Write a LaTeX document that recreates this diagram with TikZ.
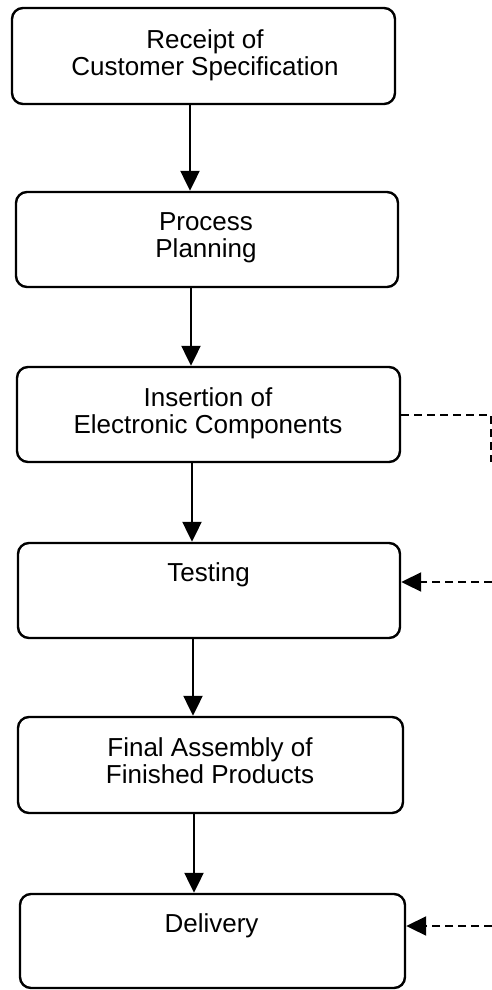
\documentclass[tikz,border=0pt]{standalone}
\usepackage{fontspec}
\setmainfont{Liberation Sans}
\usetikzlibrary{arrows.meta,calc}
\tikzset{
  procbox/.style={draw=black, line width=2.4pt, rounded corners=11pt, inner sep=0pt, fill=none},
  lbl/.style={font=\fontsize{26}{27}\selectfont, align=center, inner sep=0pt, text=black, anchor=base},
  flow/.style={line width=2.2pt, -{Triangle[length=20pt,width=19pt]}},
  dashflow/.style={line width=2pt, dash pattern=on 8pt off 5pt},
}
\begin{document}
\begin{tikzpicture}[x=1pt,y=-1pt]
\useasboundingbox (0,0) rectangle (492,990);
% boxes
\node[procbox, minimum width=383pt, minimum height=96pt] (b1) at (203.5,56) {};
\node[procbox, minimum width=382pt, minimum height=95pt] (b2) at (207,239.5) {};
\node[procbox, minimum width=383pt, minimum height=95pt] (b3) at (208.5,414.5) {};
\node[procbox, minimum width=382pt, minimum height=95pt] (b4) at (209,590.5) {};
\node[procbox, minimum width=385pt, minimum height=96pt] (b5) at (210.5,765) {};
\node[procbox, minimum width=385pt, minimum height=94pt] (b6) at (212.5,941) {};
% labels (anchored at baseline of last line)
\node[lbl] (t1) at (205,75) {Receipt of\\Customer Specification};
\node[lbl] (t2) at (206,257) {Process\\Planning};
\node[lbl] (t3) at (208,433) {Insertion of\\Electronic Components};
\node[lbl] (t4) at (208.5,581) {Testing};
\node[lbl] (t5) at (210,783) {Final Assembly of\\Finished Products};
\node[lbl] (t6) at (211.5,932) {Delivery};
% arrow x positions
\coordinate (a1) at (190,0);
\coordinate (a2) at (191,0);
\coordinate (a3) at (192,0);
\coordinate (a4) at (193,0);
\coordinate (a5) at (194,0);
\draw[flow] (b1.south -| a1) -- (b2.north -| a1);
\draw[flow] (b2.south -| a2) -- (b3.north -| a2);
\draw[flow] (b3.south -| a3) -- (b4.north -| a3);
\draw[flow] (b4.south -| a4) -- (b5.north -| a4);
\draw[flow] (b5.south -| a5) -- (b6.north -| a5);
% dashed connectors
\coordinate (d1) at (491,415);
\coordinate (d2) at (491,462);
\draw[dashflow] (b3.east |- d1) -- (d1) -- (d2);
\coordinate (r4) at (492,582);
\draw[dashflow, -{Triangle[length=20pt,width=19pt]}] (r4) -- (r4 -| b4.east);
\coordinate (r6) at (492,926);
\draw[dashflow, -{Triangle[length=20pt,width=19pt]}] (r6) -- (r6 -| b6.east);
\end{tikzpicture}
\end{document}
